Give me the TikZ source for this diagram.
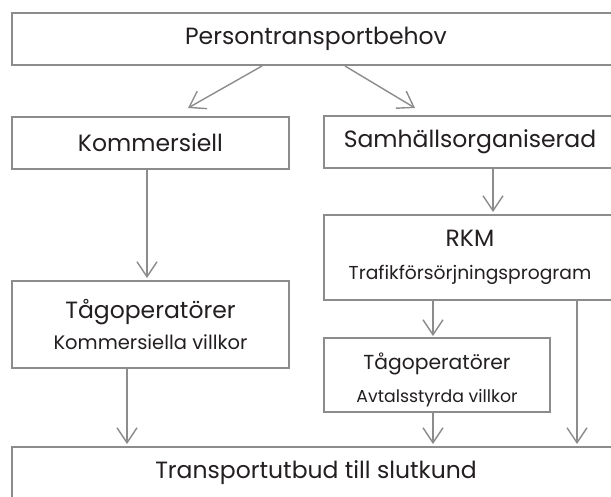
\documentclass[tikz,border=0pt]{standalone}
\usepackage{fontspec}
\setmainfont{Poppins}
\usetikzlibrary{arrows.meta, positioning, calc}

\definecolor{ramgra}{HTML}{8C8C8C}
\definecolor{textsvart}{HTML}{231F20}

\newcommand{\stortext}{\fontsize{23.5}{26}\selectfont}
\newcommand{\mellantext}{\fontsize{20.3}{23}\selectfont}
\newcommand{\rkmtext}{\fontsize{18.7}{21}\selectfont}
\newcommand{\villkortext}{\fontsize{19.5}{22}\selectfont}
\newcommand{\avtaltext}{\fontsize{17.3}{20}\selectfont}

\tikzset{
  ruta/.style={draw=ramgra, line width=2pt, fill=white, inner sep=0pt,
               align=center, text=textsvart, font=\stortext},
  rutatext/.style={inner sep=0pt, align=center, text=textsvart},
  pil/.style={draw=ramgra, line width=1.4pt,
              -{Straight Barb[length=15pt,width=20pt]}},
}

\begin{document}
\begin{tikzpicture}[x=1pt, y=1pt]
    \useasboundingbox (0,0) rectangle (611,-496);
    \clip (0,0) rectangle (611,-496);

    % rutorna (bredare rutor går ut över högerkanten)
    \node[ruta, minimum width=608pt, minimum height=52pt] (behov) at (316,-39) {Persontransportbehov};
    \node[ruta, minimum width=277pt, minimum height=52pt] (komm) at (150.5,-143) {Kommersiell};
    \node[ruta, minimum width=292pt, minimum height=52pt] (samh) at (470,-142) {Samhällsorganiserad};
    \node[ruta, minimum width=292pt, minimum height=85pt] (rkm) at (470,-257.5)
        {RKM\\[7pt]{\rkmtext Trafikförsörjningsprogram}};
    \node[ruta, minimum width=277pt, minimum height=87pt] (opkomm) at (150.5,-324.5)
        {Tågoperatörer\\[5pt]{\villkortext Kommersiella villkor}};
    \node[ruta, minimum width=226pt, minimum height=74pt] (opavtal) at (437,-375) {};
    \node[rutatext, font=\mellantext] (opavtaltext) at (437,-379.5)
        {Tågoperatörer\\[10pt]{\avtaltext Avtalsstyrda villkor}};
    \node[ruta, minimum width=608pt, minimum height=52pt] (utbud) at (316,-473) {Transportutbud till slutkund};

    % pilarna
    \draw[pil] ([xshift=-54pt]behov.south) -- ([xshift=37.5pt, yshift=8pt]komm.north);
    \draw[pil] ([xshift=29pt]behov.south) -- ([xshift=-55pt, yshift=7pt]samh.north);
    \draw[pil, shorten >=2pt] ([xshift=-3.5pt]komm.south) -- ([xshift=-3.5pt]opkomm.north);
    \draw[pil, shorten >=2pt] ([xshift=23pt]samh.south) -- ([xshift=23pt]rkm.north);
    \draw[pil, shorten >=1pt] ([xshift=-37pt]rkm.south) -- ([xshift=-4pt]opavtal.north);
    \draw[pil, shorten >=2pt] ([xshift=107pt]rkm.south) -- ([xshift=261pt]utbud.north);
    \draw[pil, shorten >=2pt] ([xshift=-23.5pt]opkomm.south) -- ([xshift=-189pt]utbud.north);
    \draw[pil, shorten >=2pt] ([xshift=-4pt]opavtal.south) -- ([xshift=117pt]utbud.north);
\end{tikzpicture}
\end{document}
